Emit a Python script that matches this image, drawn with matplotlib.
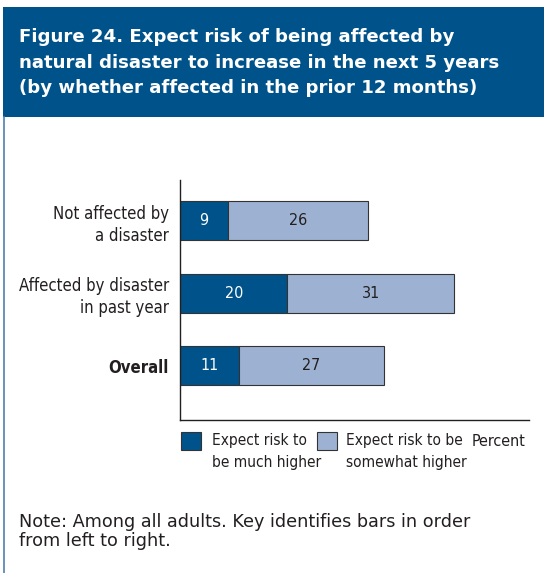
import matplotlib
matplotlib.use("Agg")
import matplotlib.pyplot as plt
from matplotlib.patches import Rectangle
from matplotlib.lines import Line2D
from matplotlib import font_manager
from matplotlib.font_manager import FontProperties

categories = ["Not affected by\na disaster", "Affected by disaster\nin past year", "Overall"]
much_higher = [9, 20, 11]
somewhat_higher = [26, 31, 27]
series_labels = ["Expect risk to\nbe much higher", "Expect risk to be\nsomewhat higher"]
title = ("Figure 24. Expect risk of being affected by\n"
         "natural disaster to increase in the next 5 years\n"
         "(by whether affected in the prior 12 months)")
note = "Note: Among all adults. Key identifies bars in order\nfrom left to right."

# find a condensed font
cond_reg, cond_bold = None, None
found = []
for f in font_manager.fontManager.ttflist:
    nm = (f.name + " " + f.fname).lower()
    if ("condensed" in nm or "narrow" in nm or str(f.stretch) in ("condensed", "semi-condensed")) \
            and f.style == "normal" and "extra" not in nm and "ultra" not in nm and "semi" not in nm:
        found.append(f)
found.sort(key=lambda f: (0 if "dejavu" in f.name.lower() else 1, f.fname))
for f in found:
    w = f.weight if isinstance(f.weight, int) else (700 if "bold" in str(f.weight) else 400)
    if w >= 600 and cond_bold is None:
        cond_bold = f.fname
    if w < 500 and cond_reg is None and "light" not in f.fname.lower() and "oblique" not in f.fname.lower():
        cond_reg = f.fname

def cprop(size, bold=False):
    if bold and cond_bold:
        return FontProperties(fname=cond_bold, size=size)
    if cond_reg:
        return FontProperties(fname=cond_reg, size=size)
    return FontProperties(family="Liberation Sans", size=size * 0.95,
                          weight="bold" if bold else "normal")

DARK = "#00538A"
LIGHT = "#9DB2D2"
TXT = "#231F20"
W, H = 544, 573
fig = plt.figure(figsize=(W / 100, H / 100), dpi=100)

def fx(x): return x / W
def fy(y): return 1 - y / H

# header
fig.patches.append(Rectangle((fx(3), fy(117)), fx(541), 110 / H, transform=fig.transFigure,
                             facecolor=DARK, edgecolor="none"))
fig.lines.append(Line2D([fx(3.5), fx(3.5)], [fy(117), 0], transform=fig.transFigure,
                        color="#4F7FB0", lw=1.2))
for i, line in enumerate(title.split("\n")):
    fig.text(fx(19), fy(37 + 25.7 * i), line, color="white", fontsize=13.1, fontweight="bold",
             family="DejaVu Sans", va="center", ha="left")

ax = fig.add_axes([fx(180), fy(420), fx(349), 240 / H])
y = list(range(len(categories)))
ax.barh(y, much_higher, height=0.54, color=DARK, edgecolor="#333333", linewidth=0.8)
ax.barh(y, somewhat_higher, left=much_higher, height=0.54, color=LIGHT,
        edgecolor="#333333", linewidth=0.8)
for yi, a, b in zip(y, much_higher, somewhat_higher):
    ax.text(a / 2, yi, str(a), color="white", ha="center", va="center",
            fontproperties=cprop(11.5))
    ax.text(a + b / 2, yi, str(b), color=TXT, ha="center", va="center",
            fontproperties=cprop(11.5))
ax.set_xlim(0, 65)
ax.set_ylim(2.75, -0.56)
ax.set_xticks([])
ax.set_yticks(y)
ax.set_yticklabels(categories, color=TXT, linespacing=1.3)
for i, t in enumerate(ax.get_yticklabels()):
    t.set_fontproperties(cprop(12, bold=(i == 2)))
ax.tick_params(axis="y", length=0, pad=8)
for s in ["top", "right"]:
    ax.spines[s].set_visible(False)
for s in ["left", "bottom"]:
    ax.spines[s].set_color(TXT)
    ax.spines[s].set_linewidth(1.0)

# legend
for (x0, col, lab, tx) in [(181, DARK, series_labels[0], 212), (317, LIGHT, series_labels[1], 346)]:
    fig.patches.append(Rectangle((fx(x0), fy(450)), fx(20), 18 / H, transform=fig.transFigure,
                                 facecolor=col, edgecolor="#333333", linewidth=0.8))
    for i, l in enumerate(lab.split("\n")):
        fig.text(fx(tx), fy(441 + 21 * i), l, fontproperties=cprop(11.1), color=TXT,
                 va="center", ha="left")
fig.text(fx(472), fy(441), "Percent", fontproperties=cprop(11.5), color=TXT, va="center", ha="left")

for i, l in enumerate(note.split("\n")):
    fig.text(fx(19), fy(522 + 18.5 * i), l, fontsize=12.7, family="DejaVu Sans", color=TXT,
             va="center", ha="left")

fig.savefig("out.png", dpi=100)
